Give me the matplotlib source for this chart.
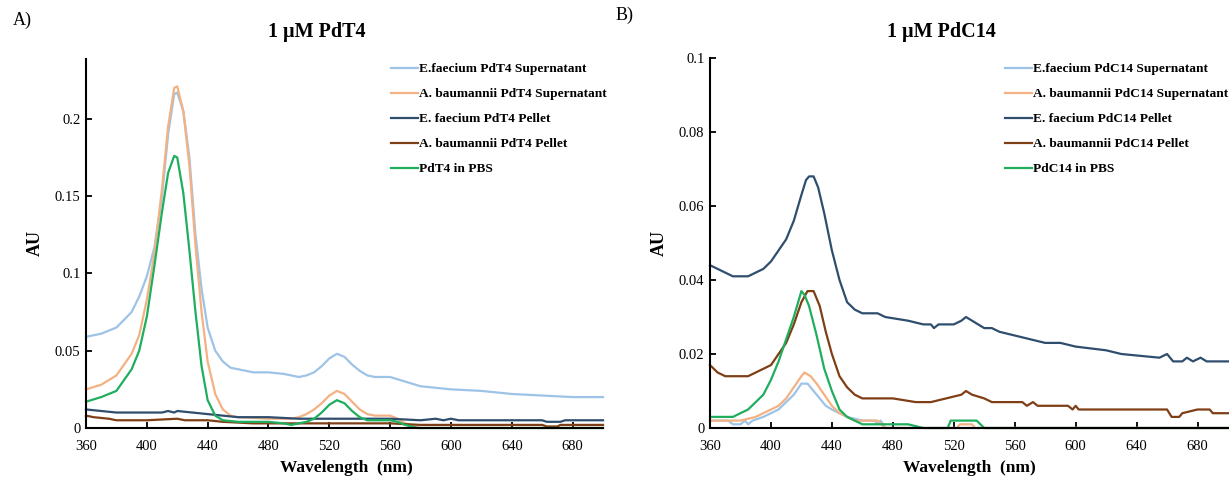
import matplotlib
matplotlib.use("Agg")
import matplotlib.pyplot as plt

# ---------------- Data (A: 1 uM PdT4) ----------------
a_ef_sup_wl = [360, 370, 380, 390, 395, 400, 405, 410, 414, 418, 420, 424, 428, 432, 436, 440, 445,
               450, 455, 460, 470, 480, 490, 500, 505, 510, 515, 520, 525, 530, 535, 540, 545, 550,
               560, 570, 580, 600, 620, 640, 660, 680, 700]
a_ef_sup = [0.059, 0.061, 0.065, 0.075, 0.085, 0.098, 0.117, 0.150, 0.190, 0.216, 0.217, 0.205, 0.175,
            0.125, 0.090, 0.065, 0.050, 0.043, 0.039, 0.038, 0.036, 0.036, 0.035, 0.033, 0.034, 0.036,
            0.040, 0.045, 0.048, 0.046, 0.041, 0.037, 0.034, 0.033, 0.033, 0.030, 0.027, 0.025, 0.024,
            0.022, 0.021, 0.020, 0.020]

a_ab_sup_wl = [360, 370, 380, 390, 395, 400, 405, 410, 414, 418, 420, 424, 428, 432, 436, 440, 445,
               450, 455, 460, 480, 495, 500, 505, 510, 515, 520, 525, 530, 535, 540, 545, 550, 560,
               565, 570, 575, 580, 700]
a_ab_sup = [0.025, 0.028, 0.034, 0.048, 0.060, 0.083, 0.113, 0.155, 0.195, 0.220, 0.221, 0.205, 0.170,
            0.118, 0.075, 0.043, 0.022, 0.012, 0.008, 0.007, 0.006, 0.006, 0.007, 0.009, 0.012, 0.016,
            0.021, 0.024, 0.022, 0.017, 0.012, 0.009, 0.008, 0.008, 0.006, 0.003, 0.001, 0.000, 0.000]

a_ef_pel_wl = [360, 370, 380, 400, 410, 414, 418, 420, 430, 440, 450, 460, 480, 500, 560, 580, 590,
               595, 600, 605, 610, 660, 663, 672, 675, 700]
a_ef_pel = [0.012, 0.011, 0.010, 0.010, 0.010, 0.011, 0.010, 0.011, 0.010, 0.009, 0.008, 0.007, 0.007,
            0.006, 0.006, 0.005, 0.006, 0.005, 0.006, 0.005, 0.005, 0.005, 0.004, 0.004, 0.005, 0.005]

a_ab_pel_wl = [360, 365, 375, 380, 400, 420, 425, 440, 450, 470, 500, 560, 580, 660, 663, 670, 672, 700]
a_ab_pel = [0.008, 0.007, 0.006, 0.005, 0.005, 0.006, 0.005, 0.005, 0.004, 0.003, 0.003, 0.003, 0.002,
            0.002, 0.001, 0.001, 0.002, 0.002]

a_pbs_wl = [360, 370, 380, 390, 395, 400, 405, 410, 414, 418, 420, 424, 428, 432, 436, 440, 445, 450,
            460, 480, 490, 495, 500, 505, 510, 515, 520, 525, 530, 535, 540, 545, 560, 565, 570, 578, 700]
a_pbs = [0.017, 0.020, 0.024, 0.038, 0.050, 0.072, 0.105, 0.140, 0.165, 0.176, 0.175, 0.152, 0.115,
         0.075, 0.040, 0.018, 0.008, 0.005, 0.004, 0.004, 0.003, 0.002, 0.003, 0.004, 0.006, 0.010,
         0.015, 0.018, 0.016, 0.011, 0.007, 0.005, 0.005, 0.004, 0.002, 0.000, 0.000]

# ---------------- Data (B: 1 uM PdC14) ----------------
b_ef_sup_wl = [360, 372, 375, 380, 383, 385, 388, 395, 400, 405, 410, 415, 420, 424, 428, 432, 436,
               440, 445, 450, 460, 468, 470, 472, 475, 700]
b_ef_sup = [0.002, 0.002, 0.001, 0.001, 0.002, 0.001, 0.002, 0.003, 0.004, 0.005, 0.007, 0.009, 0.012,
            0.012, 0.010, 0.008, 0.006, 0.005, 0.004, 0.003, 0.002, 0.002, 0.001, 0.002, 0.000, 0.000]

b_ab_sup_wl = [360, 380, 390, 395, 400, 405, 410, 415, 420, 422, 426, 430, 435, 440, 445, 450, 455,
               470, 475, 522, 524, 532, 534, 700]
b_ab_sup = [0.002, 0.002, 0.003, 0.004, 0.005, 0.006, 0.008, 0.011, 0.014, 0.015, 0.014, 0.012, 0.009,
            0.006, 0.004, 0.003, 0.002, 0.002, 0.000, 0.000, 0.001, 0.001, 0.000, 0.000]

b_ef_pel_wl = [360, 365, 370, 375, 385, 390, 395, 400, 405, 410, 415, 420, 423, 425, 428, 431, 435,
               440, 445, 450, 455, 460, 470, 475, 490, 500, 505, 507, 510, 520, 525, 528, 532, 536,
               540, 545, 550, 560, 570, 580, 590, 600, 620, 630, 655, 660, 664, 670, 673, 677, 682,
               686, 700]
b_ef_pel = [0.044, 0.043, 0.042, 0.041, 0.041, 0.042, 0.043, 0.045, 0.048, 0.051, 0.056, 0.063, 0.067,
            0.068, 0.068, 0.065, 0.058, 0.048, 0.040, 0.034, 0.032, 0.031, 0.031, 0.030, 0.029, 0.028,
            0.028, 0.027, 0.028, 0.028, 0.029, 0.030, 0.029, 0.028, 0.027, 0.027, 0.026, 0.025, 0.024,
            0.023, 0.023, 0.022, 0.021, 0.020, 0.019, 0.020, 0.018, 0.018, 0.019, 0.018, 0.019, 0.018,
            0.018]

b_ab_pel_wl = [360, 365, 370, 385, 390, 395, 400, 405, 410, 415, 420, 424, 428, 432, 436, 440, 445,
               450, 455, 460, 480, 495, 505, 515, 525, 528, 532, 540, 545, 565, 568, 572, 575, 595,
               598, 600, 602, 660, 663, 668, 670, 680, 688, 690, 700]
b_ab_pel = [0.017, 0.015, 0.014, 0.014, 0.015, 0.016, 0.017, 0.020, 0.023, 0.028, 0.034, 0.037, 0.037,
            0.033, 0.026, 0.020, 0.014, 0.011, 0.009, 0.008, 0.008, 0.007, 0.007, 0.008, 0.009, 0.010,
            0.009, 0.008, 0.007, 0.007, 0.006, 0.007, 0.006, 0.006, 0.005, 0.006, 0.005, 0.005, 0.003,
            0.003, 0.004, 0.005, 0.005, 0.004, 0.004]

b_pbs_wl = [360, 375, 380, 385, 390, 395, 400, 405, 410, 415, 420, 422, 425, 430, 435, 440, 445, 450,
            455, 460, 480, 490, 500, 516, 518, 535, 540, 700]
b_pbs = [0.003, 0.003, 0.004, 0.005, 0.007, 0.009, 0.013, 0.018, 0.024, 0.030, 0.037, 0.036, 0.033,
         0.025, 0.016, 0.010, 0.005, 0.003, 0.002, 0.001, 0.001, 0.001, 0.000, 0.000, 0.002, 0.002,
         0.000, 0.000]

labels_a = ["E.faecium PdT4 Supernatant", "A. baumannii PdT4 Supernatant", "E. faecium PdT4 Pellet",
            "A. baumannii PdT4 Pellet", "PdT4 in PBS"]
labels_b = ["E.faecium PdC14 Supernatant", "A. baumannii PdC14 Supernatant", "E. faecium PdC14 Pellet",
            "A. baumannii PdC14 Pellet", "PdC14 in PBS"]
colors = ["#9DC3E6", "#F4B183", "#2F4E6E", "#7F3F16", "#1FAE5E"]

x_ticks = [360, 400, 440, 480, 520, 560, 600, 640, 680]
a_yticks = [0, 0.05, 0.1, 0.15, 0.2]
a_yticklabels = ["0", "0.05", "0.1", "0.15", "0.2"]
b_yticks = [0, 0.02, 0.04, 0.06, 0.08, 0.1]
b_yticklabels = ["0", "0.02", "0.04", "0.06", "0.08", "0.1"]

# ---------------- Figure ----------------
W, H = 1229, 478
plt.rcParams['font.family'] = ['Liberation Serif', 'DejaVu Serif']
fig = plt.figure(figsize=(W / 100, H / 100), dpi=100)


def px_axes(l, t, r, b):
    return fig.add_axes([l / W, 1 - b / H, (r - l) / W, (b - t) / H])


axA = px_axes(86, 59, 603, 428)
axB = px_axes(710, 58, 1228, 428)

seriesA = [(a_ef_sup_wl, a_ef_sup), (a_ab_sup_wl, a_ab_sup), (a_ef_pel_wl, a_ef_pel),
           (a_ab_pel_wl, a_ab_pel), (a_pbs_wl, a_pbs)]
seriesB = [(b_ef_sup_wl, b_ef_sup), (b_ab_sup_wl, b_ab_sup), (b_ef_pel_wl, b_ef_pel),
           (b_ab_pel_wl, b_ab_pel), (b_pbs_wl, b_pbs)]

for ax, series, labels, ylim, yt, ytl in [
        (axA, seriesA, labels_a, (0, 0.2387), a_yticks, a_yticklabels),
        (axB, seriesB, labels_b, (0, 0.1), b_yticks, b_yticklabels)]:
    for (wl, v), c, lab in zip(series, colors, labels):
        ax.plot(wl, v, color=c, lw=1.6, label=lab, clip_on=False, solid_joinstyle='round')
    ax.set_xlim(360, 700)
    ax.set_ylim(*ylim)
    ax.set_xticks(x_ticks)
    ax.set_xticklabels([str(t) for t in x_ticks])
    ax.set_yticks(yt)
    ax.set_yticklabels(ytl)
    for s in ['top', 'right']:
        ax.spines[s].set_visible(False)
    for s in ['left', 'bottom']:
        ax.spines[s].set_linewidth(1.5)
        ax.spines[s].set_color('black')
    ax.tick_params(direction='in', length=4, width=1.3, labelsize=10.5, colors='black')
    ax.tick_params(axis='x', pad=9)
    ax.tick_params(axis='y', pad=4)
    ax.patch.set_alpha(0)

# Legends
leg_kw = dict(bbox_transform=fig.transFigure, loc='upper left', frameon=False, borderpad=0,
              borderaxespad=0, handlelength=2.0, handletextpad=0.1, labelspacing=0.95,
              prop={'family': 'Liberation Serif', 'weight': 'bold', 'size': 9.6})
axA.legend(bbox_to_anchor=(391 / W, 1 - 63 / H), **leg_kw)
axB.legend(bbox_to_anchor=(1005 / W, 1 - 63 / H), **leg_kw)

# Titles and labels
fig.text(317 / W, 1 - 32 / H, "1 \u00b5M PdT4", ha='center', va='center', fontsize=14.5, fontweight='bold')
fig.text(941 / W, 1 - 32 / H, "1 \u00b5M PdC14", ha='center', va='center', fontsize=14.5, fontweight='bold')
fig.text(22 / W, 1 - 20 / H, "A)", ha='center', va='center', fontsize=13)
fig.text(625 / W, 1 - 15 / H, "B)", ha='center', va='center', fontsize=13)
fig.text(35 / W, 1 - 243 / H, "AU", ha='center', va='center', rotation=90, fontsize=13, fontweight='bold')
fig.text(659 / W, 1 - 243 / H, "AU", ha='center', va='center', rotation=90, fontsize=13, fontweight='bold')
fig.text(346 / W, 1 - 468 / H, "Wavelength  (nm)", ha='center', va='center', fontsize=12.5, fontweight='bold')
fig.text(969 / W, 1 - 468 / H, "Wavelength  (nm)", ha='center', va='center', fontsize=12.5, fontweight='bold')

fig.savefig("out.png", dpi=100)
